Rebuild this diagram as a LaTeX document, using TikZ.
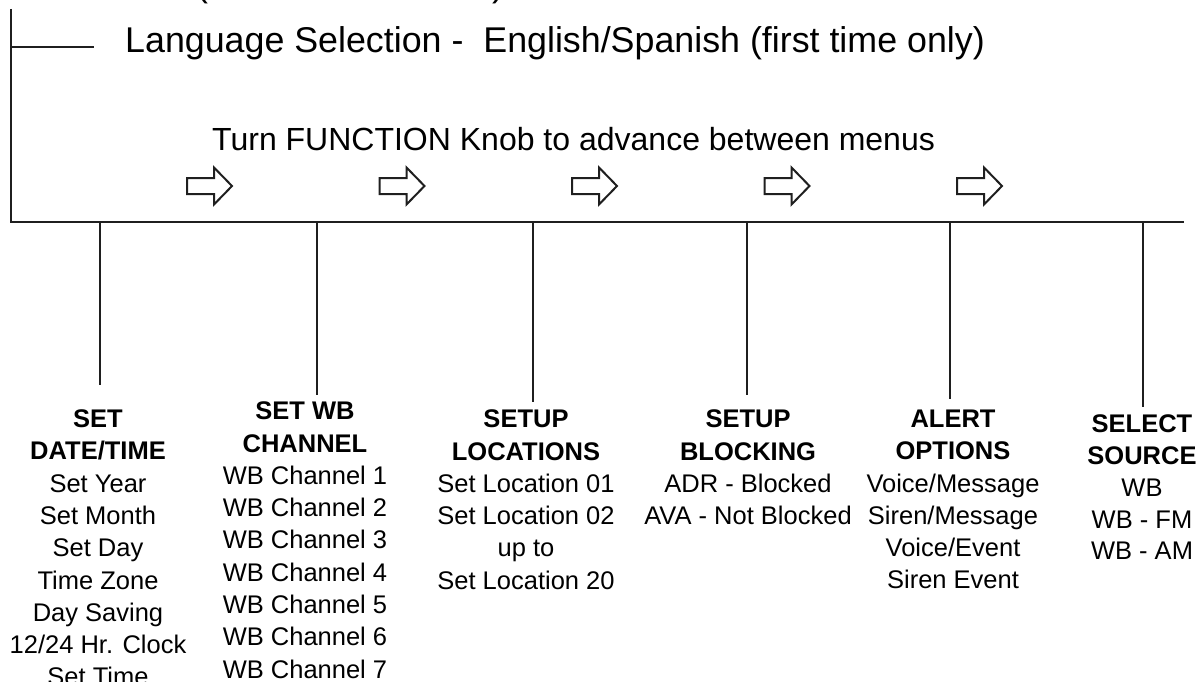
\documentclass[tikz,border=0pt]{standalone}
\usepackage{fontspec}
\setmainfont{Liberation Sans}
\begin{document}
\begin{tikzpicture}[x=1pt,y=-1pt,
  ln/.style={line width=2.6pt, draw=black!88},
  arr/.style={line width=2pt, draw=black!88, line join=miter},
  col/.style={align=center, inner sep=0pt, anchor=north, font=\fontsize{25.5}{32.3}\selectfont},
  colb/.style={align=center, inner sep=0pt, anchor=north, font=\fontsize{25.5}{31.8}\selectfont},
  big/.style={anchor=base west, inner sep=0pt, font=\fontsize{35.8}{40}\selectfont},
  mid/.style={anchor=base west, inner sep=0pt, font=\fontsize{32}{36}\selectfont},
  fwd/.pic={\draw[arr] (0,-8) -- (27,-8) -- (27,-18.5) -- (45,0) -- (27,18.5) -- (27,8) -- (0,8) -- cycle;}]
\useasboundingbox (0,0) rectangle (1199,682);
\clip (0,0) rectangle (1199,682);

% partially visible heading above
\node[big] (po) at (196,-3) {(};
\node[big] (pc) at (492,-3) {)};

% spine
\coordinate (top) at (11,9);
\coordinate (corner) at (11,222);
\coordinate (busend) at (1184,222);
\coordinate (br) at (11,47);
\coordinate (brend) at (94,47);
\draw[ln, line join=miter] (top) -- (corner) -- (busend);
\draw[ln] (br) -- (brend);

\node[big] (lang) at (125,53) {Language Selection -\ \ English/Spanish (first time only)};
\node[mid] (turn) at (212,150) {Turn FUNCTION Knob to advance between menus};

\foreach \i in {0,...,4} \pic at ({187+192.5*\i},186) {fwd};

% columns
\node[col] (c1) at (98,409.5) {\textbf{SET}\\\textbf{DATE/TIME}\\Set Year\\Set Month\\Set Day\\Time Zone\\Day Saving\\12/24 Hr. Clock\\Set Time};
\node[col] (c2) at (305,401.7) {\textbf{SET WB}\\\textbf{CHANNEL}\\WB Channel 1\\WB Channel 2\\WB Channel 3\\WB Channel 4\\WB Channel 5\\WB Channel 6\\WB Channel 7};
\node[col] (c3) at (526,409.7) {\textbf{SETUP}\\\textbf{LOCATIONS}\\Set Location 01\\Set Location 02\\up to\\Set Location 20};
\node[col] (c4) at (748,409.7) {\textbf{SETUP}\\\textbf{BLOCKING}\\ADR - Blocked\\AVA - Not Blocked};
\node[col] (c5) at (953,409.7) {\textbf{ALERT}\\\textbf{OPTIONS}\\Voice/Message\\Siren/Message\\Voice/Event\\Siren Event};
\node[colb] (c6) at (1142,414.7) {\textbf{SELECT}\\\textbf{SOURCE}\\WB\\WB - FM\\WB - AM};

% drops
\coordinate (t1) at (100,222); \coordinate (b1) at (100,385);
\coordinate (t2) at (317,222); \coordinate (b2) at (317,395);
\coordinate (t3) at (533,222); \coordinate (b3) at (533,402);
\coordinate (t4) at (747,222); \coordinate (b4) at (747,395);
\coordinate (t5) at (950,222); \coordinate (b5) at (950,399);
\coordinate (t6) at (1143,222); \coordinate (b6) at (1143,407);
\foreach \k in {1,...,6} \draw[ln] (t\k) -- (b\k);
\end{tikzpicture}
\end{document}
